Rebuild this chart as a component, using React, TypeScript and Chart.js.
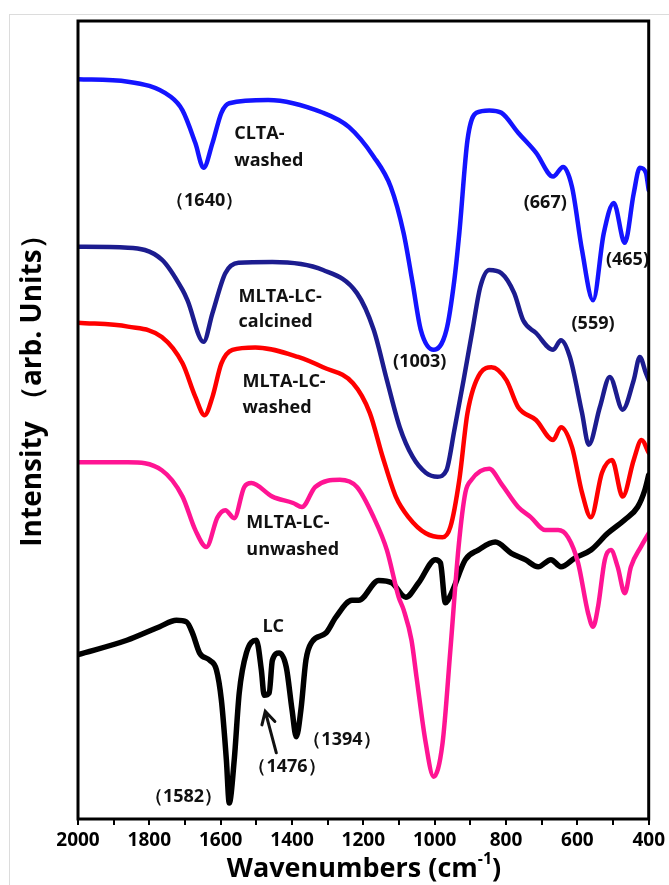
import React, { useEffect, useRef } from "react";
import { Chart, registerables } from "chart.js";

Chart.register(...registerables);

// ---------- data (x: wavenumber cm-1, y: arbitrary intensity units) ----------
const tickValues = [2000, 1800, 1600, 1400, 1200, 1000, 800, 600, 400];

const cltaWashedX = [2000, 1860, 1740, 1707, 1671, 1648, 1623, 1598, 1576, 1467, 1313, 1240, 1171, 1123, 1087, 1062, 1039, 1003, 967, 945, 931, 908, 883, 847, 813, 766, 716, 668, 640, 615, 587, 556, 526, 498, 467, 442, 425, 408, 400];
const cltaWashedY = [92.7, 92.4, 90.5, 88.8, 84.7, 81.6, 84.7, 88.5, 89.7, 90.1, 88.5, 86.7, 83.0, 79.2, 73.4, 67.2, 61.3, 58.8, 61.3, 67.5, 73.4, 85.1, 88.5, 88.8, 88.5, 86.0, 83.5, 80.5, 81.7, 79.2, 71.3, 65.0, 73.4, 77.2, 72.2, 78.4, 81.6, 81.0, 78.8];

const calcinedX = [2000, 1860, 1765, 1707, 1693, 1648, 1623, 1587, 1550, 1455, 1313, 1218, 1171, 1134, 1098, 1062, 1025, 992, 967, 945, 919, 894, 872, 847, 813, 777, 752, 716, 668, 646, 621, 587, 568, 537, 509, 473, 442, 425, 408, 400];
const calcinedY = [71.7, 71.6, 70.1, 66.3, 65.0, 59.8, 63.4, 68.4, 69.7, 69.8, 68.8, 65.9, 61.3, 55.0, 49.1, 45.4, 43.4, 42.9, 43.7, 48.7, 55.0, 61.3, 66.7, 68.8, 68.4, 65.9, 62.5, 60.9, 58.8, 60.0, 57.9, 50.9, 46.9, 51.6, 55.4, 51.3, 55.0, 57.9, 55.9, 55.0];

const washedX = [2000, 1860, 1765, 1707, 1671, 1645, 1623, 1598, 1567, 1503, 1383, 1313, 1229, 1182, 1146, 1109, 1073, 1025, 978, 956, 931, 908, 872, 841, 799, 766, 716, 668, 646, 615, 587, 562, 531, 503, 473, 442, 420, 400];
const washedY = [62.2, 61.7, 60.4, 57.1, 52.9, 50.6, 52.9, 57.1, 58.8, 59.1, 57.9, 56.6, 54.6, 50.9, 45.4, 40.4, 37.8, 35.8, 35.3, 36.6, 42.5, 50.9, 55.9, 56.6, 55.0, 51.6, 50.0, 47.5, 49.1, 46.6, 40.9, 37.8, 43.4, 45.0, 40.4, 45.0, 47.5, 45.9];

const unwashedX = [2000, 1860, 1765, 1707, 1671, 1640, 1609, 1587, 1562, 1534, 1514, 1455, 1397, 1372, 1335, 1266, 1218, 1171, 1134, 1101, 1087, 1065, 1051, 1025, 1003, 978, 956, 933, 914, 897, 872, 847, 813, 766, 730, 690, 654, 626, 598, 570, 556, 542, 523, 506, 487, 467, 450, 422, 400];
const unwashedY = [44.7, 44.7, 43.7, 40.4, 36.2, 34.1, 37.8, 38.7, 37.7, 41.6, 42.1, 40.4, 39.6, 39.1, 41.6, 42.5, 41.6, 37.8, 33.7, 27.8, 26.2, 22.4, 17.8, 9.5, 5.3, 9.5, 21.2, 34.1, 40.9, 42.5, 43.6, 43.9, 42.0, 39.1, 37.8, 36.2, 36.2, 35.3, 32.1, 25.8, 24.1, 26.6, 32.5, 33.7, 31.6, 28.3, 31.6, 34.1, 35.8];

const lcX = [2000, 1863, 1771, 1724, 1696, 1679, 1659, 1631, 1612, 1598, 1584, 1576, 1562, 1548, 1528, 1500, 1486, 1478, 1464, 1455, 1436, 1416, 1400, 1388, 1375, 1361, 1344, 1305, 1277, 1232, 1213, 1157, 1120, 1081, 1045, 998, 984, 970, 953, 914, 878, 830, 785, 746, 710, 674, 646, 607, 562, 515, 467, 431, 411, 400];
const lcY = [20.6, 22.4, 24.1, 24.9, 24.7, 23.3, 20.8, 19.9, 18.7, 14.9, 7.4, 2.0, 7.4, 15.8, 20.8, 22.4, 18.7, 15.5, 15.8, 19.9, 20.8, 19.0, 13.7, 10.3, 13.7, 19.9, 22.2, 23.3, 25.3, 27.4, 27.4, 29.9, 29.6, 27.8, 29.6, 32.5, 32.1, 27.1, 28.3, 32.5, 33.7, 34.7, 33.3, 32.5, 31.6, 32.5, 31.6, 32.7, 33.7, 35.8, 37.5, 39.1, 41.2, 43.1];

// text annotations anchored in data units (wavenumber, intensity)
const labelTexts = ["CLTA-", "washed", "（1640）", "(667)", "(465)", "MLTA-LC-", "calcined", "(1003)", "(559)", "MLTA-LC-", "washed", "MLTA-LC-", "unwashed", "LC", "（1394）", "（1476）", "（1582）"];
const labelWn = [1562, 1562, 1645, 690, 520, 1550, 1550, 1042, 556, 1539, 1539, 1528, 1528, 1483, 1260, 1414, 1704];
const labelVal = [85.2, 81.8, 76.8, 76.6, 69.4, 64.8, 61.7, 56.6, 61.4, 54.1, 50.9, 36.5, 33.1, 23.4, 9.3, 5.9, 2.1];
const labelAlign = ["left", "left", "center", "center", "left", "left", "left", "center", "center", "left", "left", "left", "left", "left", "center", "center", "center"];

const arrowTail = { wn: 1444, val: 8.3 };
const arrowHead = { wn: 1475, val: 13.5 };

const FONT = '"Open Sans", "Liberation Sans", Arial, sans-serif';

function toPoints(xs: number[], ys: number[]) {
  return xs.map((x, i) => ({ x, y: ys[i] }));
}

const framePlugin = {
  id: "frameAndText",
  afterDatasetsDraw(chart: any) {
    const { ctx, scales } = chart;
    const xs = scales.x;
    const ys = scales.y;
    ctx.save();
    ctx.fillStyle = "#111";
    ctx.font = `bold 18px ${FONT}`;
    ctx.textBaseline = "alphabetic";
    labelTexts.forEach((t, i) => {
      ctx.textAlign = labelAlign[i];
      ctx.fillText(t, xs.getPixelForValue(labelWn[i]), ys.getPixelForValue(labelVal[i]));
    });
    // arrow
    const tx = xs.getPixelForValue(arrowTail.wn);
    const ty = ys.getPixelForValue(arrowTail.val);
    const hx = xs.getPixelForValue(arrowHead.wn);
    const hy = ys.getPixelForValue(arrowHead.val);
    ctx.strokeStyle = "#111";
    ctx.lineWidth = 3;
    ctx.lineCap = "round";
    ctx.beginPath();
    ctx.moveTo(tx, ty);
    ctx.lineTo(hx, hy);
    const ang = Math.atan2(hy - ty, hx - tx);
    const len = 14;
    ctx.moveTo(hx - len * Math.cos(ang - 0.5), hy - len * Math.sin(ang - 0.5));
    ctx.lineTo(hx, hy);
    ctx.lineTo(hx - len * Math.cos(ang + 0.5), hy - len * Math.sin(ang + 0.5));
    ctx.stroke();
    ctx.restore();
  },
  afterDraw(chart: any) {
    const { ctx, chartArea } = chart;
    const { left, top, right, bottom } = chartArea;
    ctx.save();
    ctx.strokeStyle = "#000";
    ctx.lineWidth = 3;
    ctx.strokeRect(left, top, right - left, bottom - top);

    // x-axis title with superscript
    ctx.fillStyle = "#000";
    ctx.textBaseline = "alphabetic";
    ctx.textAlign = "left";
    const mainFont = `bold 27px ${FONT}`;
    const supFont = `bold 16px ${FONT}`;
    const p1 = "Wavenumbers (cm";
    const p2 = "-1";
    const p3 = ")";
    ctx.font = mainFont;
    const w1 = ctx.measureText(p1).width;
    const w3 = ctx.measureText(p3).width;
    ctx.font = supFont;
    const w2 = ctx.measureText(p2).width;
    const total = w1 + w2 + w3;
    const cx = 364;
    const base = 877;
    const x0 = cx - total / 2;
    ctx.font = mainFont;
    ctx.fillText(p1, x0, base);
    ctx.font = supFont;
    ctx.fillText(p2, x0 + w1, base - 13);
    ctx.font = mainFont;
    ctx.fillText(p3, x0 + w1 + w2, base);

    // y-axis title
    ctx.translate(41, 384);
    ctx.rotate(-Math.PI / 2);
    ctx.textAlign = "center";
    ctx.font = `bold 28px ${FONT}`;
    ctx.fillText("Intensity （arb. Units）", 0, 0);
    ctx.restore();
  },
};

export default function App() {
  const ref = useRef<HTMLCanvasElement | null>(null);

  useEffect(() => {
    if (!ref.current) return;
    const chart = new Chart(ref.current, {
      type: "line",
      data: {
        datasets: [
          { label: "MLTA-LC-unwashed", data: toPoints(unwashedX, unwashedY), borderColor: "#ff1493", borderWidth: 4.5 },
          { label: "CLTA-washed", data: toPoints(cltaWashedX, cltaWashedY), borderColor: "#1414ff", borderWidth: 4.5 },
          { label: "MLTA-LC-calcined", data: toPoints(calcinedX, calcinedY), borderColor: "#1c1c8f", borderWidth: 4.5 },
          { label: "MLTA-LC-washed", data: toPoints(washedX, washedY), borderColor: "#ff0000", borderWidth: 4.5 },
          { label: "LC", data: toPoints(lcX, lcY), borderColor: "#000000", borderWidth: 5.5 },
        ],
      },
      options: {
        responsive: false,
        animation: false,
        layout: { padding: { left: 0, top: 21, right: 18, bottom: 0 } },
        elements: {
          point: { radius: 0 },
          line: { cubicInterpolationMode: "monotone", borderJoinStyle: "round", borderCapStyle: "round" },
        },
        plugins: { legend: { display: false }, tooltip: { enabled: false } },
        scales: {
          x: {
            type: "linear",
            reverse: true,
            min: 400,
            max: 2000,
            border: { display: false },
            grid: { display: true, drawOnChartArea: false, drawTicks: true, tickLength: 6, color: "#000", lineWidth: 2 },
            ticks: {
              stepSize: 100,
              autoSkip: false,
              maxRotation: 0,
              padding: 4,
              color: "#000",
              font: { family: FONT, size: 19, weight: "bold" },
              callback: (v: any) => (tickValues.includes(Number(v)) ? String(v) : ""),
            },
            afterFit: (s: any) => {
              s.height = 66;
            },
          },
          y: {
            type: "linear",
            min: 0,
            max: 100,
            border: { display: false },
            grid: { display: false },
            ticks: { display: false },
            afterFit: (s: any) => {
              s.width = 78;
            },
          },
        },
      },
      plugins: [framePlugin],
    });
    return () => chart.destroy();
  }, []);

  return (
    <div style={{ position: "fixed", left: 0, top: 0, width: 669, height: 885, background: "#fff" }}>
      <div style={{ position: "absolute", left: 9, top: 14, right: 0, bottom: 0, borderLeft: "1px solid #dcdcdc", borderTop: "1px solid #dcdcdc" }} />
      <canvas ref={ref} width={669} height={885} style={{ position: "absolute", left: 0, top: 0 }} />
    </div>
  );
}
